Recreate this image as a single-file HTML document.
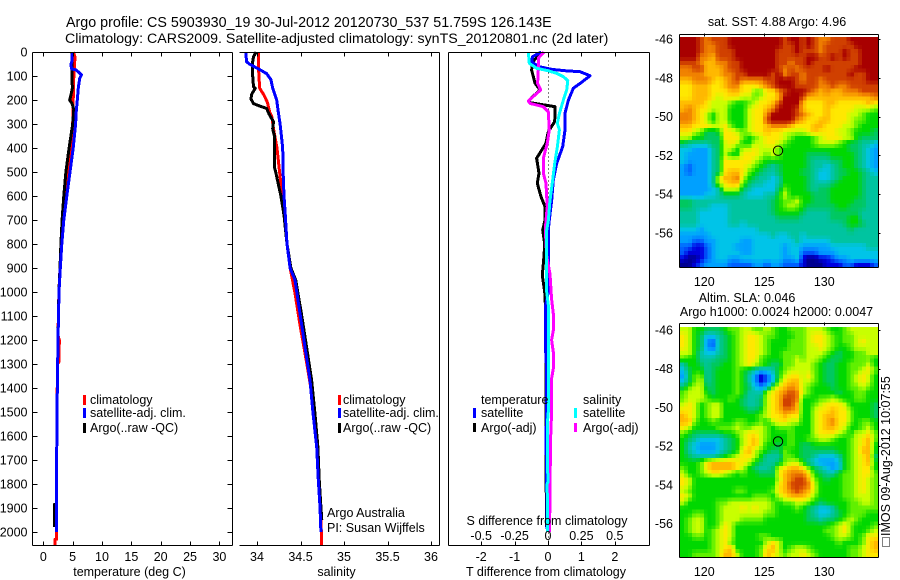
<!DOCTYPE html>
<html lang="en">
<head>
<meta charset="utf-8">
<title>Argo profile 5903930_19</title>
<style>
html,body{margin:0;padding:0;background:#fff;width:900px;height:580px;overflow:hidden}
svg{display:block}
text{font-family:"Liberation Sans",sans-serif;font-size:12.5px;fill:#000}
.title{font-size:14.2px}
.title-first{font-size:14.3px}
.mid{text-anchor:middle}
.end{text-anchor:end}
</style>
</head>
<body>
<svg id="chart" xmlns="http://www.w3.org/2000/svg" width="900" height="580" viewBox="0 0 900 580">
  <rect x="0" y="0" width="900" height="580" fill="#fff"/>
  <text class="title-first" x="66" y="27">Argo profile: CS 5903930_19 30-Jul-2012 20120730_537 51.759S 126.143E</text>
  <text class="title" x="65" y="43">Climatology: CARS2009. Satellite-adjusted climatology: synTS_20120801.nc (2d later)</text>

  <g id="layer-heat"></g>
  <g id="layer-lines"></g>
  <g id="layer-axes"></g>

  <text class="mid" x="129.5" y="576">temperature (deg C)</text>
  <text class="mid" x="336.5" y="576">salinity</text>
  <text class="mid" x="546" y="576">T difference from climatology</text>
  <text class="mid" x="547" y="525">S difference from climatology</text>

  <g>
    <rect x="83" y="395" width="3" height="10" fill="#f00"/>
    <text x="90" y="404">climatology</text>
    <rect x="83" y="408" width="3" height="10" fill="#00f"/>
    <text x="90" y="417">satellite-adj. clim.</text>
    <rect x="83" y="423" width="3" height="10" fill="#000"/>
    <text x="90" y="432">Argo(..raw -QC)</text>
  </g>
  <g>
    <rect x="338" y="395" width="3" height="10" fill="#f00"/>
    <text x="343" y="404">climatology</text>
    <rect x="338" y="408" width="3" height="10" fill="#00f"/>
    <text x="343" y="417">satellite-adj. clim.</text>
    <rect x="338" y="423" width="3" height="10" fill="#000"/>
    <text x="343" y="432">Argo(..raw -QC)</text>
  </g>
  <g>
    <text x="481" y="404">temperature</text>
    <rect x="473" y="408" width="3" height="10" fill="#00f"/>
    <text x="481" y="417">satellite</text>
    <rect x="473" y="423" width="3" height="9" fill="#000"/>
    <text x="481" y="432">Argo(-adj)</text>
    <text x="583" y="404">salinity</text>
    <rect x="574" y="408" width="3" height="10" fill="#0ff"/>
    <text x="583" y="417">satellite</text>
    <rect x="574" y="423" width="3" height="9" fill="#f0f"/>
    <text x="583" y="432">Argo(-adj)</text>
  </g>

  <text x="327" y="517">Argo Australia</text>
  <text x="327" y="532">PI: Susan Wijffels</text>

  <text class="mid" x="777" y="26">sat. SST: 4.88 Argo: 4.96</text>
  <text class="mid" x="747" y="302">Altim. SLA: 0.046</text>
  <text class="mid" x="776.5" y="316">Argo h1000: 0.0024 h2000: 0.0047</text>

  <rect x="882.5" y="537.5" width="7" height="9" fill="none" stroke="#000" stroke-dasharray="1 1"/>
  <text transform="translate(890 536) rotate(-90)">IMOS 09-Aug-2012 10:07:55</text>
</svg>

<script>
// ---------- depth-profile data (dbar) ----------
const tempClimDepth = [0,20,100,200,300,400,500,600,700,800,900,1000,1180,1200,1290,1300,1500,1800,2000,2030,2031,2054];
const tempClim      = [5.1,5.4,5.2,5.1,5.0,4.7,4.26,3.8,3.4,3.1,2.85,2.65,2.5,2.72,2.7,2.42,2.33,2.25,2.28,2.28,2.0,2.0];
const tempSatDepth  = [0,40,50,70,75,95,110,150,200,250,300,400,500,600,700,800,900,1000,1200,1500,1800,2000];
const tempSat       = [4.95,4.85,4.7,4.8,5.6,6.5,6.2,5.96,5.8,5.6,5.5,5.1,4.55,4.0,3.5,3.15,2.9,2.67,2.5,2.33,2.25,2.28];
const tempArgoDepth = [0,60,100,150,180,200,215,240,300,400,500,600,700,800,900,1000,1200,1500,1800,1884,1885,1980];
const tempArgo      = [4.9,4.85,4.85,4.95,4.7,4.5,4.9,5.2,5.0,4.4,3.85,3.5,3.2,3.0,2.85,2.65,2.5,2.33,2.25,2.25,1.9,1.9];

const salClimDepth = [0,80,150,180,210,250,270,320,400,450,500,600,700,800,900,1000,1150,1250,1400,1600,1800,2000,2054];
const salClim      = [34.02,34.02,34.03,34.08,34.12,34.146,34.17,34.19,34.23,34.245,34.26,34.29,34.32,34.345,34.38,34.435,34.5,34.55,34.62,34.68,34.71,34.74,34.74];
const salSatDepth  = [0,40,50,70,90,115,150,200,250,300,350,400,500,600,680,800,900,950,1090,1230,1367,1504,1646,1783,1896,2000];
const salSat       = [33.87,33.88,33.91,34.015,34.11,34.16,34.18,34.226,34.245,34.265,34.28,34.295,34.3,34.31,34.325,34.345,34.38,34.437,34.494,34.552,34.609,34.644,34.686,34.705,34.724,34.735];
const salArgoDepth = [0,20,40,100,145,151,175,195,215,225,235,260,290,320,350,480,500,550,600,680,800,900,950,1090,1230,1367,1504,1646,1783,1896,1950];
const salArgo      = [33.99,33.96,33.95,33.95,33.96,33.98,33.94,33.93,33.96,34.03,34.11,34.14,34.19,34.18,34.2,34.2,34.215,34.245,34.275,34.31,34.345,34.39,34.445,34.51,34.57,34.628,34.665,34.70,34.715,34.735,34.745];

const diffTSatDepth  = [0,19,40,60,72,78,82,99,131,151,200,256,325,394,464,533,617,700,742,1000,1054,1250,1300,1550,1600,2000];
const diffTSat       = [-0.2,-0.46,-0.49,-0.3,0.1,0.5,0.96,1.26,0.96,0.76,0.61,0.51,0.51,0.44,0.26,0.16,0.11,0.04,0.01,0.01,-0.07,-0.07,-0.05,-0.05,-0.06,-0.02];
const diffTArgoDepth = [0,40,75,130,158,204,211,228,240,290,332,380,443,505,547,603,644,700,742,800,850,930,1000,1100,1755,1980];
const diffTArgo      = [-0.2,-0.45,-0.49,-0.39,-0.24,-0.59,-0.54,0.21,0.21,0.2,0.01,-0.06,-0.34,-0.27,-0.32,-0.21,-0.09,-0.09,-0.16,-0.1,-0.12,-0.17,-0.1,-0.06,-0.06,-0.04];
const diffSSatDepth  = [0,47,68,78,89,103,119,158,200,256,297,325,394,464,533,617,700,742,1000,1054,1500,1550,1750,1760,1790,1800,2000];
const diffSSat       = [-0.1475,-0.14,-0.085,0,0.065,0.115,0.148,0.14,0.115,0.085,0.07,0.085,0.07,0.05,0.035,0.015,0.003,-0.01,-0.01,0.002,0.002,-0.005,-0.005,0.001,0.001,-0.006,-0.004];
const diffSArgoDepth = [0,26,75,131,158,204,214,228,249,325,380,443,505,547,603,644,700,742,850,925,1030,1090,1160,1200,1250,1320,1360,1500,1600,1800,2000];
const diffSArgo      = [-0.03,-0.0725,-0.0725,-0.0775,-0.055,-0.1475,-0.135,-0.035,0.0025,0.01,-0.005,-0.035,-0.035,-0.015,-0.01,-0.005,-0.015,-0.02,-0.01,0.015,0.027,0.04,0.04,0.027,0.04,0.04,0.027,0.027,0.02,0.015,0.012];

// ---------- tick labels ----------
const depthTicks = [0,100,200,300,400,500,600,700,800,900,1000,1100,1200,1300,1400,1500,1600,1700,1800,1900,2000];
const tempTicks  = [0,5,10,15,20,25,30];
const salTicks   = [34,34.5,35,35.5,36];
const diffTTicks = [-2,-1,0,1,2];
const diffSTicks = [-0.5,-0.25,0,0.25,0.5];
const diffTTickLabels = ['-2','-1','0','1','2'];
const diffSTickLabels = ['-0.5','-0.25','0','0.25','0.5'];
const lonTicks = [120,125,130];
const latTicks = [-46,-48,-50,-52,-54,-56];
const floatLon = 126.143;
const floatLat = -51.759;

// ---------- satellite map grids: colour-level per cell (0 lowest .. e highest) ----------
const sstRows = [
"eeedcdddee eeeeeeedee dedccdddee eee",
"eeedccddee eeeeeeedde dedcddddde eee",
"eeedccddde eeeeeeddde dddcdddedd eee",
"eeeccbddde eeeeeedddd deeddededd eee",
"dddcbbccdd eeeeeeddcd dedddddddd eee",
"ccddbbbcdd eeeeeedcdc ddddedddde eee",
"ccccbbbccd deeeedecdd cddddddded dee",
"bbcccbabcd ccccddeeed cddcdddddd dee",
"aabbbaabcc aaabcdeeed dddccdccdd ddd",
"aabbbaaabb aa88aacdee edcbcbbccc ddd",
"aabbba9aaa 9989aabeee dbbbbbbbbb bbc",
"bbbba99987 789aabdeee baaabbaaaa aba",
"bcbaa99977 79aabceeed baaabaaaa9 998",
"ccba979977 79aaceeeed cbaabaaa99 877",
"ccba979977 79aadeeeec baabbaaa98 877",
"bbaaa99a87 79aabcccba aabbaaa998 777",
"aa98667aa9 89aabaa999 9abaaa9987 776",
"9977666aaa 8789aaa987 7789aaa997 666",
"65555669a9 7799aa9877 7789998766 554",
"4433356997 99a9998777 7777777766 543",
"4333356977 aaa9898777 7666677776 543",
"4333356aaa aa98777777 7655566776 543",
"3233356aaa a987656777 7655456776 543",
"3233356abb a876556777 6654456677 654",
"3333359bbc 9765545777 7654456777 655",
"3333359abb 8655445777 7655567777 655",
"3333345999 6544446877 7656677777 655",
"3333445666 5444557977 7766677777 655",
"6655555555 5555567889 7766677776 655",
"6655544455 5555567898 7666667766 655",
"5554444455 5555567777 6555566666 555",
"5554444455 5555556666 5555566677 555",
"5554444455 4555555555 5555555677 655",
"4443444444 4445555555 5555555565 555",
"3333344444 4444454455 4555555555 555",
"3322334444 3344444445 4444455555 555",
"2211234443 3344444344 3333344444 455",
"2111234444 3344444344 2223334444 444",
"1001234433 4444444334 1001123344 444",
"0012333322 2233233222 1000111221 112"
];
const slaRows = [
"9977666788 9988987788 8999877899 999",
"a976445678 9aa9887778 89aa987889 999",
"a976325678 9aa9877788 89aa987889 a99",
"a976325678 9aa9877788 899a987789 999",
"9975445678 9aa9877888 8999876778 899",
"8775556678 9aa8777889 8998766778 887",
"5776566778 9a98766889 9987667788 897",
"4677567778 7654457899 9987667788 9a8",
"3688567778 75312479aa 9a87667789 a97",
"4689567778 7531248abb 9987667789 a97",
"6899667778 764348abcb 9877767788 987",
"8999767778 75559abcdc 9877776778 877",
"8999877787 65569abddc 7778898778 877",
"9a97899777 65569abddb 7789aaa977 776",
"aa97899777 76679abccb 779aabaa87 776",
"ba97899777 77789aabaa 779abbaa87 776",
"bb87787778 877879aa99 779abcaa87 887",
"a977778889 8899878887 779abba977 897",
"8766666778 9aa9877787 779aaa9879 9a8",
"7654444567 9ab9877787 7889987789 ab8",
"7543334567 9ab9776787 6677777789 ab7",
"7543334567 ab98766877 6666667789 bb7",
"7655556789 aa97555887 6654445789 ab6",
"7778abbbba a976556899 7543334789 ab7",
"8778abbbba 9765569abb a865434789 aa7",
"97789aa987 877666abcc ca76557889 aa8",
"a977777777 7777779bcd db87677889 a98",
"a977777777 777777abdd dc97777889 a98",
"9877777778 877778abcd cb97777889 a98",
"a977777777 7788879abb ba87777889 998",
"9777778899 9999987889 9876777788 998",
"7777778999 a9a9987778 7654457788 888",
"7788778999 9999887777 7654456788 877",
"7899778999 8888777777 7665667898 777",
"7899778a97 7777777777 7777789a87 778",
"7899789a97 7777777777 7777889a87 789",
"7788789a97 7778877777 7777789987 8aa",
"7777789a87 77779a9777 7777778777 8ab",
"7777789ab7 7778ab9789 9877777788 9ab",
"7788889bb9 7778ba9899 a987777788 9aa"
];

// ---------- axis functions ----------
const PANEL_TOP = 52.5, PANEL_BOTTOM = 545.5;
function yDepth(d){ return 52 + 0.24 * d; }
function xTemp(t){ return 43.3 + 5.87 * t; }
function xSal(s){ return 257 + 87 * (s - 34); }
function xDiffT(t){ return 548 + 33.4 * t; }
function xDiffS(s){ return 548 + 133.6 * s; }
function xLon(lon){ return 704.3 + 12 * (lon - 120); }
function yLatSst(lat){ return 39 + 19.4 * (-46 - lat); }
function yLatSla(lat){ return 330 + 19.35 * (-46 - lat); }

const NS = 'http://www.w3.org/2000/svg';
const levelColors = [[0,0,144],[0,0,224],[0,96,255],[0,160,255],[0,196,232],[0,196,160],[0,200,96],[0,216,0],[96,240,0],[200,255,0],[255,232,0],[255,184,0],[240,128,0],[208,64,0],[168,0,0]];
const heatLayer = document.getElementById('layer-heat');
const lineLayer = document.getElementById('layer-lines');
const axisLayer = document.getElementById('layer-axes');

function levelColor(v){
  const i = Math.min(levelColors.length - 2, Math.max(0, Math.floor(v)));
  const f = v - i;
  const a = levelColors[i], b = levelColors[i + 1];
  return 'rgb(' + [0,1,2].map(function(k){ return Math.round(a[k] + (b[k] - a[k]) * f); }).join(',') + ')';
}

// resamples the level grid bilinearly onto the ~4px pixels of the original map image
function drawHeat(rows, top, bottom, name){
  const grid = rows.map(function(row){
    return row.replace(/ /g, '').split('').map(function(ch){ return parseInt(ch, 16); });
  });
  const srcRows = grid.length, srcCols = grid[0].length;
  const outCols = 50, outRows = 58;
  const cellW = 198 / outCols, cellH = (bottom - top) / outRows;
  for (let r = 0; r < outRows; r++){
    const v = Math.min(srcRows - 1, Math.max(0, (r + 0.5) / outRows * srcRows - 0.5));
    const r0 = Math.floor(v), r1 = Math.min(srcRows - 1, r0 + 1), fr = v - r0;
    for (let c = 0; c < outCols; c++){
      const u = Math.min(srcCols - 1, Math.max(0, (c + 0.5) / outCols * srcCols - 0.5));
      const c0 = Math.floor(u), c1 = Math.min(srcCols - 1, c0 + 1), fc = u - c0;
      const top0 = grid[r0][c0] * (1 - fc) + grid[r0][c1] * fc;
      const bot0 = grid[r1][c0] * (1 - fc) + grid[r1][c1] * fc;
      const el = document.createElementNS(NS, 'rect');
      
      
      el.setAttribute('x', (680 + cellW * c).toFixed(2));
      el.setAttribute('y', (top + cellH * r).toFixed(2));
      el.setAttribute('width', (cellW + 0.3).toFixed(2));
      el.setAttribute('height', (cellH + 0.3).toFixed(2));
      el.setAttribute('fill', levelColor(top0 * (1 - fr) + bot0 * fr));
      el.setAttribute('shape-rendering', 'crispEdges');
      heatLayer.appendChild(el);
    }
  }
}

function drawLine(depths, values, xFn, color, name, width){
  const el = document.createElementNS(NS, 'polyline');
  
  
  el.setAttribute('points', depths.map(function(d, i){ return xFn(values[i]).toFixed(1) + ',' + yDepth(d).toFixed(1); }).join(' '));
  el.setAttribute('fill', 'none');
  el.setAttribute('stroke', color);
  el.setAttribute('stroke-width', width);
  el.setAttribute('stroke-linejoin', 'round');
  el.setAttribute('shape-rendering', 'crispEdges');
  lineLayer.appendChild(el);
}

function seg(x1, y1, x2, y2, name){
  const el = document.createElementNS(NS, 'line');
  
  
  el.setAttribute('x1', x1);
  el.setAttribute('y1', y1);
  el.setAttribute('x2', x2);
  el.setAttribute('y2', y2);
  el.setAttribute('stroke', '#000');
  el.setAttribute('stroke-width', 1);
  el.setAttribute('shape-rendering', 'crispEdges');
  axisLayer.appendChild(el);
}

function label(x, y, str, anchor, name){
  const el = document.createElementNS(NS, 'text');
  
  
  el.setAttribute('x', x);
  el.setAttribute('y', y);
  el.setAttribute('text-anchor', anchor);
  el.textContent = str;
  axisLayer.appendChild(el);
}

function drawMarker(cx, cy){
  const el = document.createElementNS(NS, 'circle');
  
  
  el.setAttribute('cx', cx);
  el.setAttribute('cy', cy);
  el.setAttribute('r', 4.7);
  el.setAttribute('fill', 'none');
  el.setAttribute('stroke', '#000');
  el.setAttribute('stroke-width', 1);
  axisLayer.appendChild(el);
}

// ---------- maps ----------
drawHeat(sstRows, 37, 267, 'sst-map-cell');
drawHeat(slaRows, 327, 557, 'sla-map-cell');

function drawMapFrame(top, bottom, yLat, prefix){
  const left = 679.5, right = 878.5;
  seg(left, top, right, top, prefix + '-frame-top');
  seg(left, bottom, right, bottom, prefix + '-frame-bottom');
  seg(left, top, left, bottom, prefix + '-frame-left');
  seg(right, top, right, bottom, prefix + '-frame-right');
  lonTicks.forEach(function(lon){
    const x = Math.round(xLon(lon)) + 0.5;
    seg(x, top - 1, x, top + 2, prefix + '-top-tick');
    label(xLon(lon), bottom + 18.5, String(lon), 'middle', prefix + '-longitude-label');
  });
  latTicks.forEach(function(lat){
    const y = Math.round(yLat(lat)) + 0.5;
    seg(right, y, right + 2, y, prefix + '-right-tick');
    label(673, yLat(lat) + 4.5, String(lat), 'end', prefix + '-latitude-label');
  });
  drawMarker(xLon(floatLon), yLat(floatLat));
}
drawMapFrame(34.5, 267.5, yLatSst, 'sst-map');
drawMapFrame(323.5, 557.5, yLatSla, 'sla-map');

// ---------- profile lines ----------
drawLine(tempClimDepth, tempClim, xTemp, '#f00', 'temperature-climatology-line', 3);
drawLine(tempArgoDepth, tempArgo, xTemp, '#000', 'temperature-argo-line', 3);
drawLine(tempSatDepth, tempSat, xTemp, '#00f', 'temperature-satellite-line', 3);

drawLine(salClimDepth, salClim, xSal, '#f00', 'salinity-climatology-line', 3);
drawLine(salArgoDepth, salArgo, xSal, '#000', 'salinity-argo-line', 3);
drawLine(salSatDepth, salSat, xSal, '#00f', 'salinity-satellite-line', 3);

drawLine(diffTArgoDepth, diffTArgo, xDiffT, '#000', 't-difference-argo-line', 3);
drawLine(diffTSatDepth, diffTSat, xDiffT, '#00f', 't-difference-satellite-line', 3);
drawLine(diffSArgoDepth, diffSArgo, xDiffS, '#f0f', 's-difference-argo-line', 3);
drawLine(diffSSatDepth, diffSSat, xDiffS, '#0ff', 's-difference-satellite-line', 3);

// zero reference in the difference panel
(function(){
  const el = document.createElementNS(NS, 'line');
  
  
  el.setAttribute('x1', xDiffT(0) + 0.5);
  el.setAttribute('y1', PANEL_TOP);
  el.setAttribute('x2', xDiffT(0) + 0.5);
  el.setAttribute('y2', PANEL_BOTTOM);
  el.setAttribute('stroke', '#000');
  el.setAttribute('stroke-width', 1);
  el.setAttribute('stroke-dasharray', '1 3');
  el.setAttribute('shape-rendering', 'crispEdges');
  lineLayer.insertBefore(el, lineLayer.firstChild);
})();

// ---------- panel frames and ticks ----------
// panel 1: temperature
seg(32.5, PANEL_TOP, 232.5, PANEL_TOP, 'temperature-panel-top');
seg(32.5, PANEL_BOTTOM, 232.5, PANEL_BOTTOM, 'temperature-panel-bottom');
seg(32.5, PANEL_TOP, 32.5, PANEL_BOTTOM, 'temperature-panel-left');
seg(232.5, PANEL_TOP, 232.5, PANEL_BOTTOM, 'temperature-panel-right');
depthTicks.forEach(function(d){
  const y = Math.round(yDepth(d)) + 0.5;
  seg(32.5, y, 37.5, y, 'depth-tick');
  seg(227.5, y, 232.5, y, 'depth-tick');
  label(27.5, yDepth(d) + 4.5, String(d), 'end', 'depth-label');
});
tempTicks.forEach(function(t){
  const x = Math.round(xTemp(t)) + 0.5;
  seg(x, PANEL_TOP, x, PANEL_TOP + 4, 'temperature-tick');
  seg(x, PANEL_BOTTOM - 4, x, PANEL_BOTTOM, 'temperature-tick');
  label(xTemp(t), 561, String(t), 'middle', 'temperature-label');
});

// panel 2: salinity
seg(239.5, PANEL_TOP, 439.5, PANEL_TOP, 'salinity-panel-top');
seg(239.5, PANEL_BOTTOM, 439.5, PANEL_BOTTOM, 'salinity-panel-bottom');
seg(439.5, PANEL_TOP, 439.5, PANEL_BOTTOM, 'salinity-panel-right');
salTicks.forEach(function(s){
  const x = Math.round(xSal(s)) + 0.5;
  seg(x, PANEL_TOP, x, PANEL_TOP + 4, 'salinity-tick');
  seg(x, PANEL_BOTTOM - 4, x, PANEL_BOTTOM, 'salinity-tick');
  label(xSal(s), 561, String(s), 'middle', 'salinity-label');
});

// panel 3: differences
seg(448.5, PANEL_TOP, 649.5, PANEL_TOP, 'difference-panel-top');
seg(448.5, PANEL_BOTTOM, 649.5, PANEL_BOTTOM, 'difference-panel-bottom');
seg(448.5, PANEL_TOP, 448.5, PANEL_BOTTOM, 'difference-panel-left');
seg(649.5, PANEL_TOP, 649.5, PANEL_BOTTOM, 'difference-panel-right');
diffTTicks.forEach(function(t, i){
  const x = Math.round(xDiffT(t)) + 0.5;
  seg(x, PANEL_TOP, x, PANEL_TOP + 4, 't-difference-tick');
  seg(x, PANEL_BOTTOM - 4, x, PANEL_BOTTOM, 't-difference-tick');
  label(xDiffT(t), 561, diffTTickLabels[i], 'middle', 't-difference-label');
});
diffSTicks.forEach(function(s, i){
  label(xDiffS(s), 540, diffSTickLabels[i], 'middle', 's-difference-label');
});
</script>
</body>
</html>
